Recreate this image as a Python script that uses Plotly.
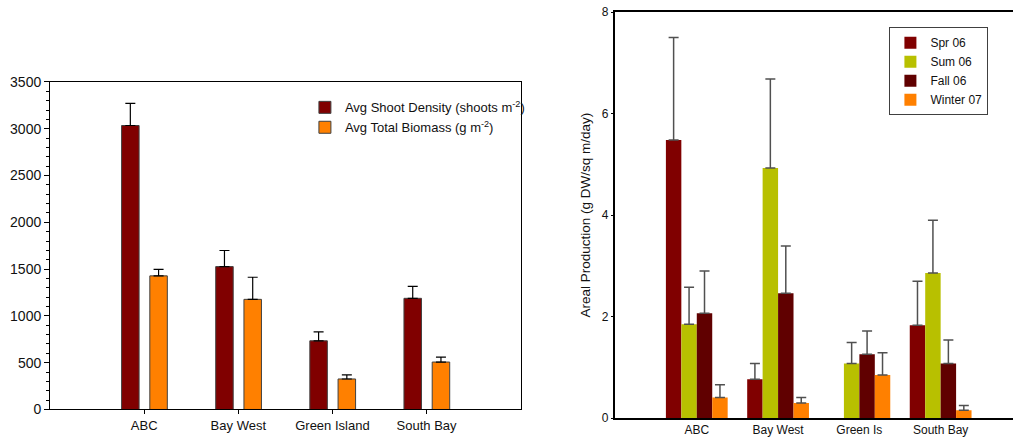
import plotly.graph_objects as go

# Left chart data
sites_left = ["ABC", "Bay West", "Green Island", "South Bay"]
shoot_density = [3035, 1527, 734, 1188]
shoot_density_err = [236, 172, 96, 128]
total_biomass = [1428, 1177, 326, 507]
total_biomass_err = [70, 236, 43, 53]

# Right chart data
sites_right = ["ABC", "Bay West", "Green Is", "South Bay"]
spr06 = [5.48, 0.77, None, 1.83]
spr06_err = [2.02, 0.31, 0, 0.87]
sum06 = [1.85, 4.93, 1.08, 2.86]
sum06_err = [0.73, 1.75, 0.41, 1.04]
fall06 = [2.07, 2.46, 1.26, 1.08]
fall06_err = [0.83, 0.93, 0.46, 0.46]
win07 = [0.41, 0.30, 0.85, 0.16]
win07_err = [0.25, 0.11, 0.44, 0.09]

FONT = "Arial, Liberation Sans, sans-serif"
DARKRED = "#800000"
ORANGE = "#ff8000"
OLIVE = "#b8c000"
MAROON = "#600000"

fig = go.Figure()

# Left chart
fig.add_trace(go.Bar(
    x=sites_left, y=shoot_density, name="Avg Shoot Density (shoots m<sup>-2</sup>)",
    marker=dict(color=DARKRED, line=dict(color="#404040", width=1)),
    width=0.186, offset=-0.24,
    error_y=dict(type="data", array=shoot_density_err, symmetric=False, arrayminus=[0]*4,
                 color="black", thickness=1.2, width=5),
    xaxis="x", yaxis="y", legend="legend"))
fig.add_trace(go.Bar(
    x=sites_left, y=total_biomass, name="Avg Total Biomass (g m<sup>-2</sup>)",
    marker=dict(color=ORANGE, line=dict(color="#404040", width=1)),
    width=0.186, offset=0.06,
    error_y=dict(type="data", array=total_biomass_err, symmetric=False, arrayminus=[0]*4,
                 color="black", thickness=1.2, width=5),
    xaxis="x", yaxis="y", legend="legend"))

# Right chart
right_series = [
    ("Spr 06", spr06, spr06_err, DARKRED, -0.38),
    ("Sum 06", sum06, sum06_err, OLIVE, -0.19),
    ("Fall 06", fall06, fall06_err, MAROON, 0.0),
    ("Winter 07", win07, win07_err, ORANGE, 0.19),
]
for name, vals, errs, col, off in right_series:
    fig.add_trace(go.Bar(
        x=sites_right, y=vals, name=name,
        marker=dict(color=col, line=dict(width=0)),
        width=0.19, offset=off,
        error_y=dict(type="data", array=errs, symmetric=False, arrayminus=[0]*4,
                     color="#505050", thickness=1.5, width=5),
        xaxis="x2", yaxis="y2", legend="legend2"))

fig.update_layout(
    width=1013, height=438,
    margin=dict(l=0, r=0, t=0, b=0, autoexpand=False),
    paper_bgcolor="white", plot_bgcolor="white",
    barmode="overlay",
    font=dict(family=FONT, color="#111111", size=13),
    xaxis=dict(domain=[0.0494, 0.514], anchor="y", range=[-1, 4], automargin=False,
               showline=True, linecolor="black", linewidth=1, mirror=True,
               ticks="outside", ticklen=4, tickcolor="black", showgrid=False,
               tickfont=dict(size=13, family=FONT)),
    yaxis=dict(domain=[0.0651, 0.8128], anchor="x", range=[0, 3500], automargin=False,
               tickvals=[0, 500, 1000, 1500, 2000, 2500, 3000, 3500],
               showline=True, linecolor="black", linewidth=1, mirror=True,
               ticks="outside", ticklen=5, tickcolor="black", showgrid=False, zeroline=False,
               minor=dict(dtick=100, ticks="outside", ticklen=3, tickcolor="black", showgrid=False),
               tickfont=dict(size=14, family=FONT)),
    xaxis2=dict(domain=[0.6076, 1.0], anchor="y2", range=[-1, 3.89], automargin=False,
                showline=True, linecolor="black", linewidth=1.5, mirror=True,
                ticks="", showgrid=False,
                tickfont=dict(size=12, family=FONT)),
    yaxis2=dict(domain=[0.045, 0.9726], anchor="x2", range=[0, 8], automargin=False,
                tickvals=[0, 2, 4, 6, 8],
                showline=True, linecolor="black", linewidth=1.5, mirror=False,
                ticks="outside", ticklen=3, tickcolor="black", showgrid=False, zeroline=False,
                tickfont=dict(size=12, family=FONT),
                title=dict(text="Areal Production (g DW/sq m/day)", font=dict(size=13.5, family=FONT),
                           standoff=8)),
    legend=dict(x=0.301, y=0.789, xanchor="left", yanchor="top",
                bgcolor="rgba(0,0,0,0)", borderwidth=0,
                font=dict(size=13, family=FONT), tracegroupgap=0),
    legend2=dict(x=0.878, y=0.938, xanchor="left", yanchor="top",
                 bgcolor="white", bordercolor="#404040", borderwidth=1,
                 font=dict(size=12, family=FONT), tracegroupgap=0),
)

fig.write_html("out.html", config={"displayModeBar": False},
               post_script="document.body.style.margin='0';document.body.style.overflow='hidden';")
